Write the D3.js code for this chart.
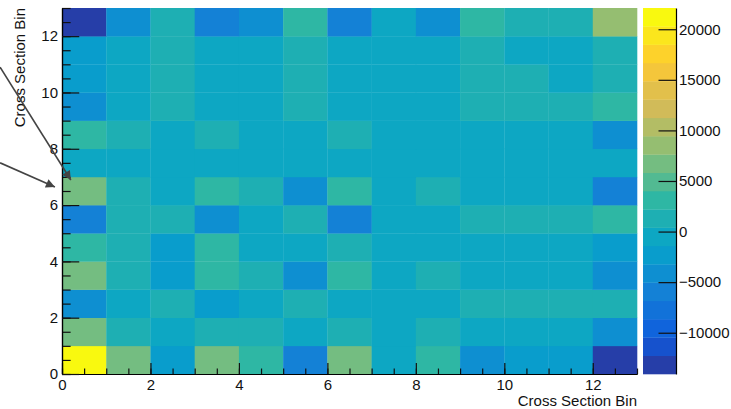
<!DOCTYPE html>
<html>
<head>
<meta charset="utf-8">
<script src="https://cdn.jsdelivr.net/npm/d3@7"></script>
<style>
  body { margin: 0; background: #fff; }
  text { font-family: "Liberation Sans", Arial, Helvetica, sans-serif; }
</style>
</head>
<body>
<div id="chart"></div>
<script>
// bin index on both axes
const bins = [0, 1, 2, 3, 4, 5, 6, 7, 8, 9, 10, 11, 12];
const xTickValues = [0, 2, 4, 6, 8, 10, 12];
const yTickValues = [0, 2, 4, 6, 8, 10, 12];
const zTickValues = [-10000, -5000, 0, 5000, 10000, 15000, 20000];

// bin contents, one row per y bin (row 0 = bottom), one entry per x bin
const zRows = [
  [22100, 6700, -2200, 6500, 3200, -5800, 6800, -600, 3100, -4100, -2300, -2400, -14080],
  [6700, 1300, -500, 1200, 1400, -400, 1300, -600, 1200, -500, -700, -600, -4000],
  [-4100, -500, 1300, -2300, -400, 1200, -500, -600, -400, 1300, 1200, 1300, 1300],
  [6500, 1200, -2300, 3700, 1500, -4200, 3300, -500, 1400, -600, -700, -500, -4100],
  [3200, 1300, -2400, 3000, -300, -600, 1500, -500, -700, -500, -600, -700, -2300],
  [-5800, 1200, 1300, -4200, -500, 1400, -5900, -600, -400, 1300, 1200, 1400, 3200],
  [6800, 1300, -500, 3300, 1300, -4100, 3600, -600, 1200, -500, -600, -500, -6000],
  [-600, -500, -400, -500, -600, -500, -600, -300, -500, -400, -500, -600, -700],
  [3100, 1200, -600, 1300, -500, -600, 1300, -500, -400, -600, -500, -700, -4100],
  [-4100, -600, 1300, -500, -600, 1200, -500, -400, -600, 1400, 1300, 1200, 3300],
  [-2300, -700, 1200, -600, -500, 1300, -600, -500, -600, 1300, 1500, -400, 1300],
  [-2400, -600, 1300, -500, -700, 1400, -500, -600, -500, 1200, -500, -300, 1200],
  [-14080, -4300, 1300, -5800, -4000, 3100, -6100, -800, -4200, 3200, 1400, 1300, 8500]
];

// arrows drawn on the pad, in axis units
const arrows = [
  { x1: -1.40, y1: 10.9, x2: 0.20, y2: 6.89 },
  { x1: -1.40, y1: 7.50, x2: -0.16, y2: 6.64 }
];

// ROOT kBird palette
const stops = [0.0, 0.125, 0.25, 0.375, 0.5, 0.625, 0.75, 0.875, 1.0];
const red = [0.2082, 0.0592, 0.0780, 0.0232, 0.1802, 0.5301, 0.8186, 0.9956, 0.9764];
const green = [0.1664, 0.3599, 0.5041, 0.6419, 0.7178, 0.7492, 0.7328, 0.7862, 0.9832];
const blue = [0.5293, 0.8684, 0.8385, 0.7914, 0.6425, 0.4662, 0.3499, 0.1968, 0.0539];

const nColors = 255;
const nContours = 20;

function buildPalette() {
  const cols = [];
  for (let g = 1; g < stops.length; g++) {
    const n = Math.floor(nColors * stops[g]) - Math.floor(nColors * stops[g - 1]);
    for (let c = 0; c < n; c++) {
      const r = red[g - 1] + c * (red[g] - red[g - 1]) / n;
      const gg = green[g - 1] + c * (green[g] - green[g - 1]) / n;
      const b = blue[g - 1] + c * (blue[g] - blue[g - 1]) / n;
      cols.push(d3.rgb(r * 255, gg * 255, b * 255).formatHex());
    }
  }
  return cols;
}
const palette = buildPalette();

function levelColor(level) {
  const idx = Math.floor((level + 0.99) * nColors / nContours);
  return palette[Math.min(idx, palette.length - 1)];
}

const W = 731, H = 409;
const dim = { left: 62, right: 637, top: 8, bottom: 374 };

const svg = d3.select("#chart").append("svg")
  .attr("width", W).attr("height", H);
svg.append("rect").attr("width", W).attr("height", H).attr("fill", "#fff");

const x = d3.scaleLinear().domain([0, 13]).range([dim.left, dim.right]);
const y = d3.scaleLinear().domain([0, 13]).range([dim.bottom, dim.top]);

const allZ = zRows.flat();
const zMin = d3.min(allZ), zMax = d3.max(allZ);
const dz = (zMax - zMin) / nContours;

function zLevel(v) {
  return Math.max(0, Math.min(nContours - 1, Math.floor((v - zMin) / dz)));
}

// cells
const cells = [];
zRows.forEach(function (row, j) {
  row.forEach(function (v, i) {
    cells.push({ i: bins[i], j: bins[j], v: v });
  });
});

svg.append("g").selectAll("rect")
  .data(cells)
  .enter()
  .append("rect")
  .attr("x", function (d) { return x(d.i); })
  .attr("y", function (d) { return y(d.j + 1); })
  .attr("width", function (d) { return x(d.i + 1) - x(d.i) + 0.3; })
  .attr("height", function (d) { return y(d.j) - y(d.j + 1) + 0.3; })
  .attr("fill", function (d) { return levelColor(zLevel(d.v)); });

// axes, ticks inside as in ROOT
const plotW = dim.right - dim.left, plotH = dim.bottom - dim.top;
const minorTicks = d3.range(0, 13.01, 0.5);

function styleAxis(g) {
  g.selectAll("path").attr("stroke", "#000").attr("stroke-width", 1.2);
  g.selectAll("line").attr("stroke", "#111").attr("stroke-width", 1.2);
  g.selectAll("text").attr("fill", "#111").style("font-size", "15px")
    .style("font-family", "'Liberation Sans', Arial, sans-serif");
}

svg.append("g")
  .attr("transform", "translate(0," + dim.bottom + ")")
  .call(d3.axisBottom(x).tickValues(minorTicks).tickFormat("")
    .tickSizeInner(-0.015 * plotH).tickSizeOuter(0))
  .call(styleAxis);
svg.append("g")
  .attr("transform", "translate(0," + dim.bottom + ")")
  .call(d3.axisBottom(x).tickValues(xTickValues).tickFormat(d3.format("d"))
    .tickSizeInner(-0.03 * plotH).tickSizeOuter(0).tickPadding(5))
  .call(styleAxis);

svg.append("g")
  .attr("transform", "translate(" + dim.left + ",0)")
  .call(d3.axisLeft(y).tickValues(minorTicks).tickFormat("")
    .tickSizeInner(-0.015 * plotW).tickSizeOuter(0))
  .call(styleAxis);
svg.append("g")
  .attr("transform", "translate(" + dim.left + ",0)")
  .call(d3.axisLeft(y).tickValues(yTickValues).tickFormat(d3.format("d"))
    .tickSizeInner(-0.03 * plotW).tickSizeOuter(0).tickPadding(4))
  .call(styleAxis);

// axis titles
svg.append("text")
  .attr("x", dim.right)
  .attr("y", 406)
  .attr("text-anchor", "end")
  .attr("fill", "#111")
  .style("font-size", "15px")
  .text("Cross Section Bin");

svg.append("text")
  .attr("transform", "translate(25," + dim.top + ") rotate(-90)")
  .attr("text-anchor", "end")
  .attr("fill", "#111")
  .style("font-size", "15px")
  .text("Cross Section Bin");

// palette
const pal = { left: 643, right: 676 };
const zScale = d3.scaleLinear().domain([zMin, zMax]).range([dim.bottom, dim.top]);
const bands = d3.range(nContours);

svg.append("g").selectAll("rect")
  .data(bands)
  .enter()
  .append("rect")
  .attr("x", pal.left)
  .attr("width", pal.right - pal.left)
  .attr("y", function (k) { return zScale(zMin + (k + 1) * dz); })
  .attr("height", function (k) { return zScale(zMin + k * dz) - zScale(zMin + (k + 1) * dz) + 0.3; })
  .attr("fill", function (k) { return levelColor(k); });

svg.append("g")
  .attr("transform", "translate(" + pal.right + ",0)")
  .call(d3.axisRight(zScale).tickValues(zTickValues).tickFormat(d3.format("d"))
    .tickSizeInner(-17.5).tickSizeOuter(0).tickPadding(3))
  .call(styleAxis);

// arrows
svg.append("defs").append("marker")
  .attr("id", "head")
  .attr("viewBox", "0 0 10 10")
  .attr("refX", 10).attr("refY", 5)
  .attr("markerWidth", 12).attr("markerHeight", 9)
  .attr("markerUnits", "userSpaceOnUse")
  .attr("orient", "auto")
  .append("path")
  .attr("d", "M0,0 L10,5 L0,10 z")
  .attr("fill", "#444");

svg.append("g").selectAll("line")
  .data(arrows)
  .enter()
  .append("line")
  .attr("x1", function (d) { return x(d.x1); })
  .attr("y1", function (d) { return y(d.y1); })
  .attr("x2", function (d) { return x(d.x2); })
  .attr("y2", function (d) { return y(d.y2); })
  .attr("stroke", "#444")
  .attr("stroke-width", 1.6)
  .attr("marker-end", "url(#head)");
</script>
</body>
</html>
